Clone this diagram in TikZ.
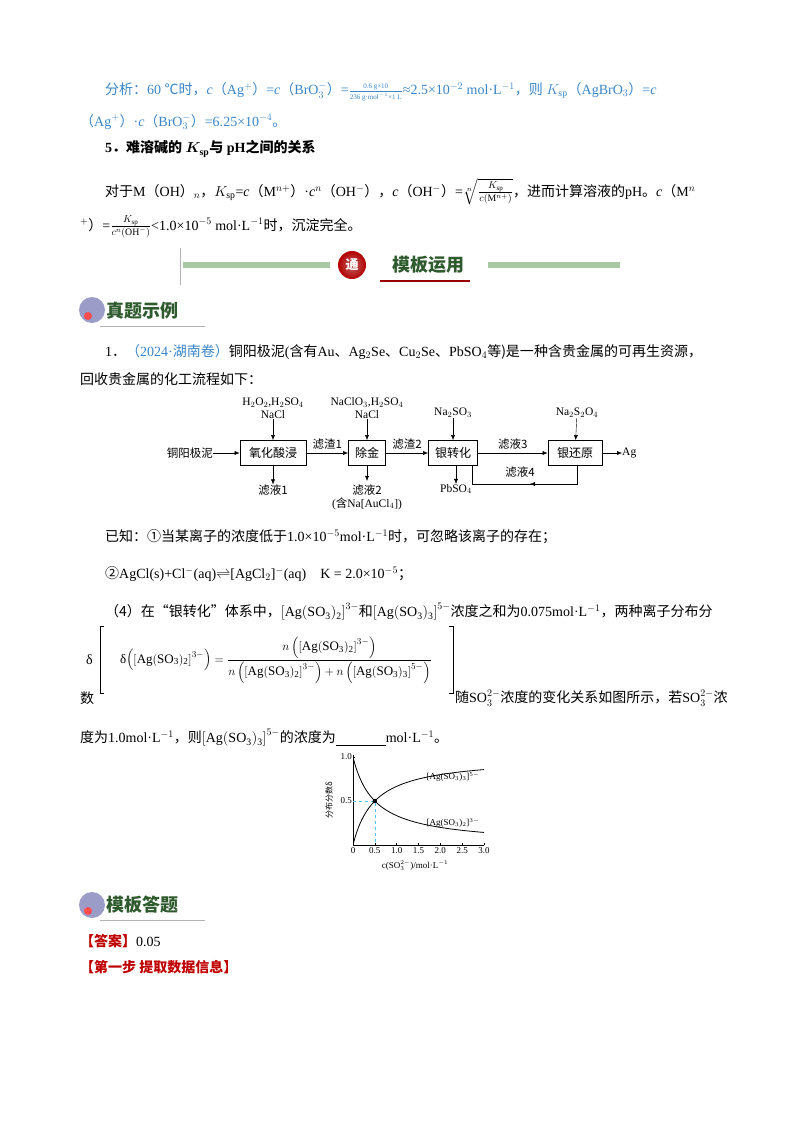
\documentclass[tikz,border=0pt]{standalone}
\usepackage{fontspec}
\usepackage{amsmath}
\setmainfont{Liberation Serif}
\newfontfamily\zh{Noto Sans CJK SC}
\newcommand{\z}[1]{{\zh #1}}
\usetikzlibrary{arrows.meta}
\definecolor{blu}{HTML}{3A86C8}
\definecolor{dgreen}{HTML}{2E5A2E}
\definecolor{hatch}{HTML}{A9C9A4}
\definecolor{ansred}{HTML}{C00000}
\begin{document}
\begin{tikzpicture}[x=1pt,y=-1pt,
  txt/.style={anchor=west,inner sep=0pt,font=\fontsize{14}{16}\selectfont},
  fbox/.style={draw,thick,minimum height=25pt,inner sep=0pt,font=\fontsize{12}{13}\selectfont},
  lab/.style={inner sep=0pt,font=\fontsize{11.5}{13}\selectfont,align=center},
  arr/.style={-{Latex[length=5pt,width=4pt]},thin},
  ax/.style={font=\fontsize{9}{10}\selectfont,inner sep=1pt}]
\useasboundingbox (0,0) rectangle (800,1134);
\fill[white] (0,0) rectangle (800,1134);

% analysis
\node[txt,text=blu] (l1) at (105,92) {\z{分析：}60 \z{℃时，}\textit{c}\z{（}Ag$^+$\z{）}=\textit{c}\z{（}BrO$_3^-$\z{）}=$\frac{\mbox{\scriptsize 0.6 g×10}}{\mbox{\scriptsize 236 g·mol$^{-1}$×1 L}}$≈2.5×10$^{-2}$ mol·L$^{-1}$\z{，则} $K_{\rm sp}$\z{（}AgBrO$_3$\z{）}=\textit{c}};
\node[txt,text=blu] (l2) at (80,122) {\z{（}Ag$^+$\z{）}·\textit{c}\z{（}BrO$_3^-$\z{）}=6.25×10$^{-4}$\z{。}};
\node[txt] (l3) at (105,149) {\textbf{5}\z{\bfseries ．难溶碱的} $\boldsymbol{K_{\rm sp}}$\z{\bfseries 与} \textbf{pH}\z{\bfseries 之间的关系}};
\node[txt] (l4) at (105,192) {\z{对于}M\z{（}OH\z{）}$_n$\z{，}$K_{\rm sp}$=\textit{c}\z{（}M$^{n+}$\z{）}·\textit{c}$^n$\z{（}OH$^-$\z{）}\z{，}\textit{c}\z{（}OH$^-$\z{）}=$\sqrt[n]{\frac{K_{\rm sp}}{c(\mathrm{M}^{n+})}}$\z{，进而计算溶液的}pH\z{。}\textit{c}\z{（}M$^n$};
\node[txt] (l5) at (80,227) {$^+$\z{）}=$\frac{K_{\rm sp}}{c^n(\mathrm{OH}^-)}$<1.0×10$^{-5}$ mol·L$^{-1}$\z{时，沉淀完全。}};

% banner
\fill[hatch] (183,262) rectangle (330,268);
\fill[hatch] (488,262) rectangle (620,268);
\draw[gray!60] (180,248) -- (180,285);
\shade[inner color=red!60!black!60,outer color=red!70!black] (352,265) circle (14);
\node[text=white,font=\zh\bfseries\fontsize{13}{13}\selectfont] (tong) at (352,265) {通};
\node[text=dgreen,font=\zh\bfseries\fontsize{18}{18}\selectfont,inner sep=0pt] (mbyy) at (428,265) {模板运用};
\draw[red!60!black,line width=1.2pt] (380,281) -- (470,281);

% section head 1
\fill[gray!70!blue!60] (92,310) circle (13);
\fill[red!70] (88,316) circle (4);
\node[text=dgreen,font=\zh\bfseries\fontsize{18}{18}\selectfont,anchor=west,inner sep=0pt] (zt) at (106,311) {真题示例};
\draw[gray!60,line width=1pt] (100,326) -- (205,326);

\node[txt] (q1) at (105,352) {1\z{．}\textcolor{blu}{\z{（}2024·\z{湖南卷）}}\z{铜阳极泥}(\z{含有}Au\z{、}Ag$_2$Se\z{、}Cu$_2$Se\z{、}PbSO$_4$\z{等)是一种含贵金属的可再生资源，}};
\node[txt] (q2) at (80,379) {\z{回收贵金属的化工流程如下：}};

% flowchart
\node[lab,anchor=east] (src) at (213,453) {\z{铜阳极泥}};
\node[fbox,minimum width=66pt] (b1) at (273,453) {\z{氧化酸浸}};
\node[fbox,minimum width=37pt] (b2) at (367,453) {\z{除金}};
\node[fbox,minimum width=49pt] (b3) at (453,453) {\z{银转化}};
\node[fbox,minimum width=54pt] (b4) at (575,453) {\z{银还原}};
\node[lab,anchor=west] (ag) at (622,453) {Ag};
\draw[arr] (src) -- (b1);
\draw[arr] (b1) -- node[lab,above=3pt]{\z{滤渣1}} (b2);
\draw[arr] (b2) -- node[lab,above=3pt]{\z{滤渣2}} (b3);
\draw[arr] (b3) -- node[lab,above=3pt]{\z{滤液3}} (b4);
\draw[arr] (b4) -- (ag);
\node[lab] (r1) at (273,408) {H$_2$O$_2$,H$_2$SO$_4$\\NaCl};
\node[lab] (r2) at (367,408) {NaClO$_3$,H$_2$SO$_4$\\NaCl};
\node[lab] (r3) at (453,413) {Na$_2$SO$_3$};
\node[lab] (r4) at (577,413) {Na$_2$S$_2$O$_4$};
\draw[arr] (r1) -- (b1);
\draw[arr] (r2) -- (b2);
\draw[arr] (r3) -- (b3);
\draw[arr] (r4) -- (b4);
\node[lab] (o1) at (273,490) {\z{滤液1}};
\node[lab] (o2) at (367,497) {\z{滤液2}\\(\z{含}Na[AuCl$_4$])};
\node[lab] (o3) at (456,489) {PbSO$_4$};
\draw[arr] (b1) -- (o1);
\draw[arr] (b2.south) -- ++(0,15);
\draw[arr] (b3.south -| o3) -- (o3);
\coordinate (c1) at (577,484);
\coordinate (c2) at (472,484);
\draw[thin] (b4.south -| c1) -- (c1) -- (c2) -- (b3.south -| c2);
\draw[arr] (c1) -- (530,484);
\node[lab] (f4) at (520,472) {\z{滤液4}};

% known
\node[txt] (k1) at (105,537) {\z{已知：①当某离子的浓度低于}1.0×10$^{-5}$mol·L$^{-1}$\z{时，可忽略该离子的存在；}};
\node[txt] (k2) at (105,574) {\z{②}AgCl(s)+Cl$^-$(aq)$\rightleftharpoons$[AgCl$_2$]$^-$(aq)\quad K = 2.0×10$^{-5}$\z{；}};
\node[txt] (k3) at (105,612) {\z{（4）在“银转化”体系中，}$\left[\mathrm{Ag(SO_3)_2}\right]^{3-}$\z{和}$\left[\mathrm{Ag(SO_3)_3}\right]^{5-}$\z{浓度之和为}0.075mol·L$^{-1}$\z{，两种离子分布分}};
\node[txt] (dl) at (86,660) {δ};
\draw[thick] (104,626) -- (100,626) -- (100,693) -- (104,693);
\draw[thick] (449,626) -- (453,626) -- (453,693) -- (449,693);
\node[inner sep=0pt,font=\fontsize{13}{15}\selectfont] (fm) at (276,660) {δ$\left(\left[\mathrm{Ag(SO_3)_2}\right]^{3-}\right)=\dfrac{n\left(\left[\mathrm{Ag(SO_3)_2}\right]^{3-}\right)}{n\left(\left[\mathrm{Ag(SO_3)_2}\right]^{3-}\right)+n\left(\left[\mathrm{Ag(SO_3)_3}\right]^{5-}\right)}$};
\node[txt] (k4a) at (80,698) {\z{数}};
\node[txt] (k4b) at (455,698) {\z{随}SO$_3^{2-}$\z{浓度的变化关系如图所示，若}SO$_3^{2-}$\z{浓}};
\node[txt] (k5) at (80,738) {\z{度为}1.0mol·L$^{-1}$\z{，则}$\left[\mathrm{Ag(SO_3)_3}\right]^{5-}$\z{的浓度为}\underline{\hspace{50pt}}mol·L$^{-1}$\z{。}};

% graph
\begin{scope}[shift={(353,845)}]
\draw[thin] (0,-90) -- (0,0) -- (131,0);
\foreach \i/\t in {0/0,1/0.5,2/1.0,3/1.5,4/2.0,5/2.5,6/3.0}{
  \draw (\i*21.83,0) -- (\i*21.83,-2);
  \node[ax,below] at (\i*21.83,1) {\t};}
\draw (0,-44) -- (2,-44); \draw (0,-88) -- (2,-88);
\node[ax,left] at (0,-88) {1.0};
\node[ax,left] at (0,-44) {0.5};
\draw[cyan!70,dashed,thin] (0,-44) -- (21.83,-44) -- (21.83,0);
\draw[thick,domain=0.01:3,samples=80,smooth] plot ({\x*43.67},{-88*2*\x/(1+2*\x)});
\draw[thick,domain=0.01:3,samples=80,smooth] plot ({\x*43.67},{-88/(1+2*\x)});
\fill (21.83,-44) circle (2.2);
\node[ax] at (100,-68) {[Ag(SO$_3$)$_3$]$^{5-}$};
\node[ax] at (100,-22) {[Ag(SO$_3$)$_2$]$^{3-}$};
\node[ax,below] at (62,14) {c(SO$_3^{2-}$)/mol·L$^{-1}$};
\node[ax,rotate=90,font=\zh\fontsize{8}{9}\selectfont] at (-24,-45) {分布分数δ};
\end{scope}

% section head 2
\fill[gray!70!blue!60] (92,905) circle (13);
\fill[red!70] (88,911) circle (4);
\node[text=dgreen,font=\zh\bfseries\fontsize{18}{18}\selectfont,anchor=west,inner sep=0pt] (mbdt) at (106,905) {模板答题};
\draw[gray!60,line width=1pt] (100,920) -- (205,920);
\node[txt] (ans) at (80,941) {\textcolor{ansred}{\z{\bfseries 【答案】}}0.05};
\node[txt,text=ansred] (st1) at (80,967) {\z{\bfseries 【第一步\ 提取数据信息】}};
\end{tikzpicture}
\end{document}
